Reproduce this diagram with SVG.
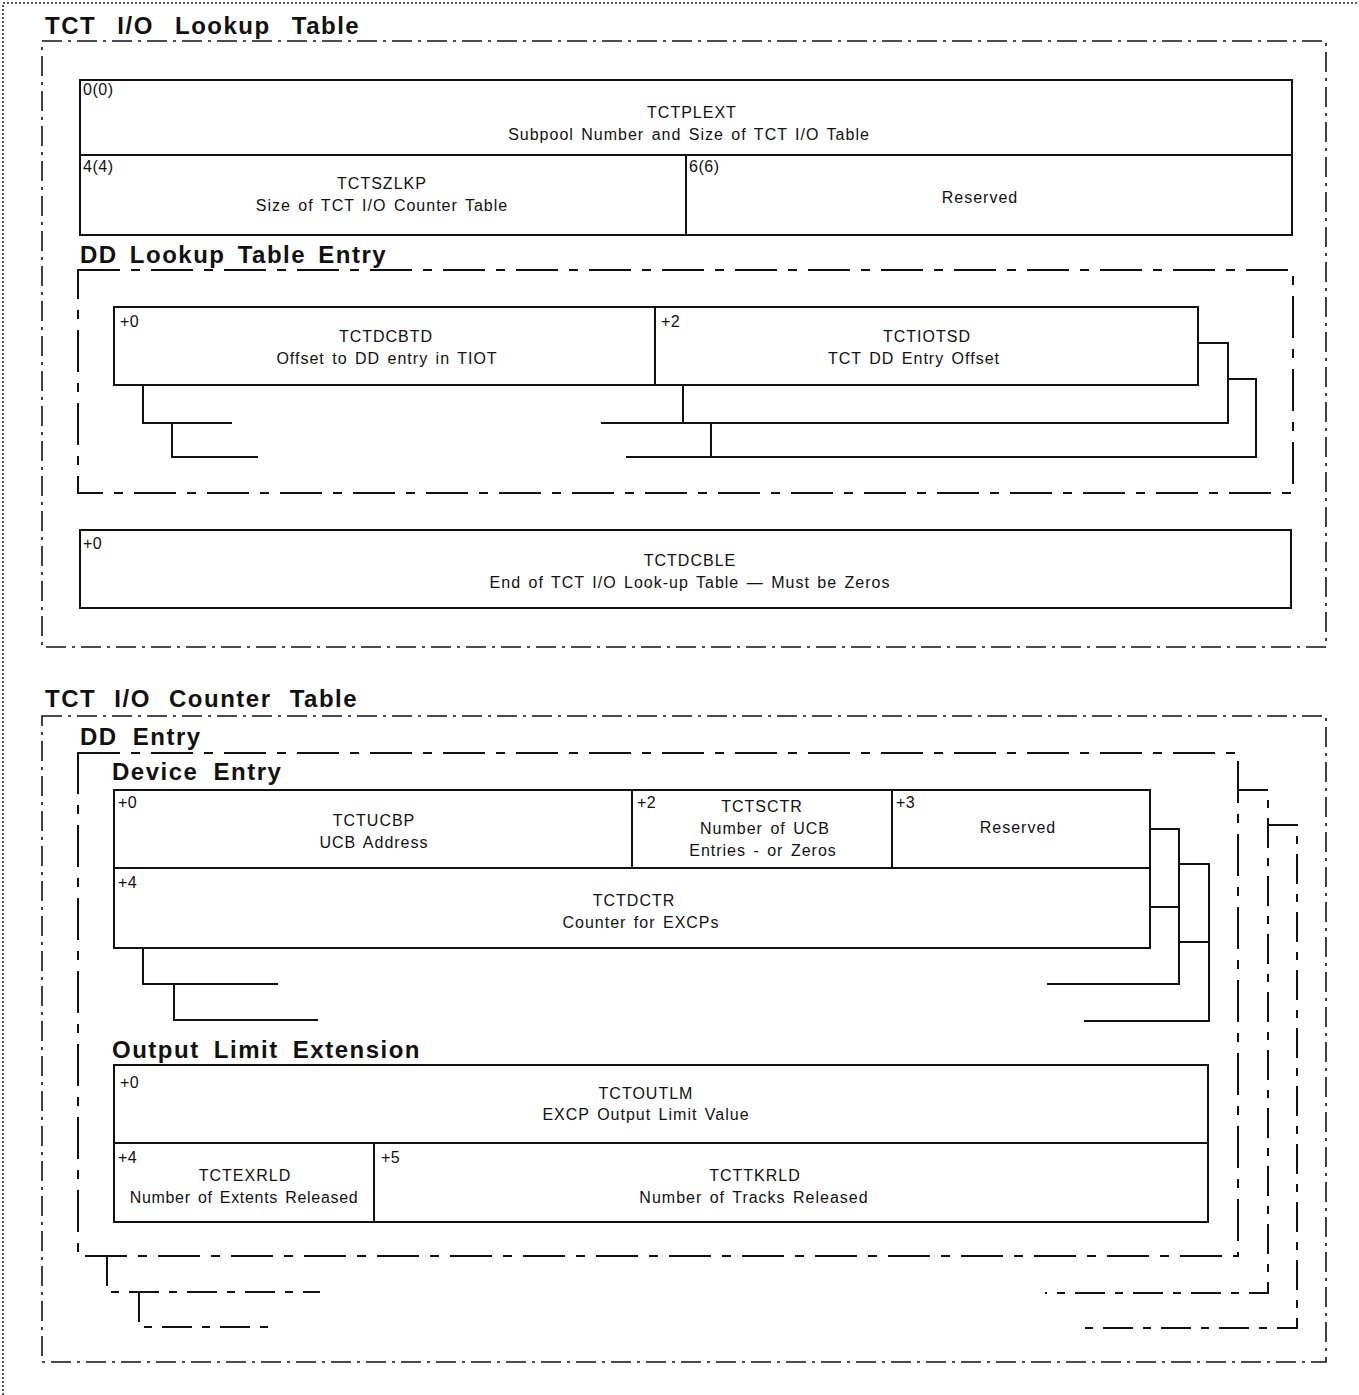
<svg xmlns="http://www.w3.org/2000/svg" width="1359" height="1395" viewBox="0 0 1359 1395">
  <style>
    .bg { fill: #ffffff; }
    .page { fill: none; stroke: #222; stroke-width: 1.5; stroke-dasharray: 2 2; }
    .outer { fill: none; stroke: #111; stroke-width: 1.6; stroke-dasharray: 20 6 3 6; }
    .dash { fill: none; stroke: #111; stroke-width: 2; stroke-dasharray: 42 11 9 11; }
    .dash2 { fill: none; stroke: #111; stroke-width: 2; stroke-dasharray: 30 10 8 10; }
    .cell { fill: #ffffff; stroke: #111; stroke-width: 2; }
    .stack { fill: none; stroke: #111; stroke-width: 2; }
    .title { font-family: "Liberation Sans", Arial, sans-serif; font-weight: bold; font-size: 24px; letter-spacing: 1.5px; word-spacing: 7px; fill: #111; }
    .name { font-family: "Liberation Sans", Arial, sans-serif; font-size: 16px; letter-spacing: 1px; word-spacing: 2px; fill: #111; text-anchor: middle; }
    .off { font-family: "Liberation Sans", Arial, sans-serif; font-size: 16px; letter-spacing: 0.5px; fill: #111; }
  </style>

  <rect class="bg" x="0" y="0" width="1359" height="1395"/>

  <!-- page edge -->
  <path class="page" d="M3 1395 V3 H1359"/>

  <!-- ===== TCT I/O Lookup Table ===== -->
  <g id="lookup-table">
    <path class="outer" d="M42 41 H1326 V647 H42 Z"/>
    <text class="title" x="45" y="34" style="word-spacing:13px">TCT I/O Lookup Table</text>
  </g>

  <g id="tctplext">
    <rect class="cell" x="80" y="80" width="1212" height="75"/>
    <text class="off" x="83" y="95">0(0)</text>
    <text class="name" x="692" y="118">TCTPLEXT</text>
    <text class="name" x="689" y="140">Subpool Number and Size of TCT I/O Table</text>
  </g>

  <g id="tctszlkp">
    <rect class="cell" x="80" y="155" width="606" height="80"/>
    <text class="off" x="83" y="172">4(4)</text>
    <text class="name" x="382" y="189">TCTSZLKP</text>
    <text class="name" x="382" y="211">Size of TCT I/O Counter Table</text>
  </g>

  <g id="lookup-reserved">
    <rect class="cell" x="686" y="155" width="606" height="80"/>
    <text class="off" x="689" y="172">6(6)</text>
    <text class="name" x="980" y="203">Reserved</text>
  </g>

  <!-- DD lookup table entry, repeated -->
  <g id="dd-lookup-entry">
    <path class="dash" d="M78 270 H1293 V493 H78 Z"/>
    <text class="title" x="80" y="263" style="word-spacing:4px">DD Lookup Table Entry</text>
  </g>

  <g id="tctdcbtd">
    <rect class="cell" x="114" y="307" width="541" height="78"/>
    <text class="off" x="120" y="327">+0</text>
    <text class="name" x="386" y="342">TCTDCBTD</text>
    <text class="name" x="387" y="364">Offset to DD entry in TIOT</text>
  </g>

  <g id="tctiotsd">
    <rect class="cell" x="655" y="307" width="543" height="78"/>
    <text class="off" x="661" y="327">+2</text>
    <text class="name" x="927" y="342">TCTIOTSD</text>
    <text class="name" x="914" y="364">TCT DD Entry Offset</text>
  </g>

  <g id="tctdcble">
    <rect class="cell" x="80" y="530" width="1211" height="78"/>
    <text class="off" x="83" y="549">+0</text>
    <text class="name" x="690" y="566">TCTDCBLE</text>
    <text class="name" x="690" y="588">End of TCT I/O Look-up Table — Must be Zeros</text>
  </g>

  <!-- ===== TCT I/O Counter Table ===== -->
  <g id="counter-table">
    <path class="outer" d="M42 716 H1326 V1362 H42 Z"/>
    <text class="title" x="45" y="707" style="word-spacing:10px">TCT I/O Counter Table</text>
  </g>

  <g id="dd-entry">
    <path class="dash" d="M78 753 H1238 V1256 H78 Z"/>
    <text class="title" x="80" y="745">DD Entry</text>
  </g>

  <g id="device-entry">
    <text class="title" x="112" y="780">Device Entry</text>
  </g>

  <g id="tctucbp">
    <rect class="cell" x="114" y="790" width="518" height="78"/>
    <text class="off" x="118" y="808">+0</text>
    <text class="name" x="374" y="826">TCTUCBP</text>
    <text class="name" x="374" y="848">UCB Address</text>
  </g>

  <g id="tctsctr">
    <rect class="cell" x="632" y="790" width="260" height="78"/>
    <text class="off" x="637" y="808">+2</text>
    <text class="name" x="762" y="812">TCTSCTR</text>
    <text class="name" x="765" y="834">Number of UCB</text>
    <text class="name" x="763" y="856">Entries - or Zeros</text>
  </g>

  <g id="device-reserved">
    <rect class="cell" x="892" y="790" width="258" height="78"/>
    <text class="off" x="896" y="808">+3</text>
    <text class="name" x="1018" y="833">Reserved</text>
  </g>

  <g id="tctdctr">
    <rect class="cell" x="114" y="868" width="1036" height="80"/>
    <text class="off" x="118" y="888">+4</text>
    <text class="name" x="634" y="906">TCTDCTR</text>
    <text class="name" x="641" y="928">Counter for EXCPs</text>
  </g>

  <g id="output-limit-extension">
    <text class="title" x="112" y="1058" style="word-spacing:6px">Output Limit Extension</text>
  </g>

  <g id="tctoutlm">
    <rect class="cell" x="114" y="1065" width="1094" height="78"/>
    <text class="off" x="120" y="1088">+0</text>
    <text class="name" x="646" y="1099">TCTOUTLM</text>
    <text class="name" x="646" y="1120">EXCP Output Limit Value</text>
  </g>

  <g id="tctexrld">
    <rect class="cell" x="114" y="1143" width="260" height="79"/>
    <text class="off" x="118" y="1163">+4</text>
    <text class="name" x="245" y="1181">TCTEXRLD</text>
    <text class="name" x="244" y="1203" style="letter-spacing:0.7px">Number of Extents Released</text>
  </g>

  <g id="tcttkrld">
    <rect class="cell" x="374" y="1143" width="834" height="79"/>
    <text class="off" x="381" y="1163">+5</text>
    <text class="name" x="755" y="1181">TCTTKRLD</text>
    <text class="name" x="754" y="1203">Number of Tracks Released</text>
  </g>

  <!-- outlines of the repeated copies drawn behind each entry -->
  <g id="connectors">
    <!-- DD lookup entries -->
    <path class="stack" d="M143 385 V423 H232"/>
    <path class="stack" d="M172 423 V457 H258"/>
    <path class="stack" d="M1198 343 H1228 V423 H601"/>
    <path class="stack" d="M683 385 V423"/>
    <path class="stack" d="M1228 379 H1256 V457 H626"/>
    <path class="stack" d="M711 423 V457"/>

    <!-- device entries -->
    <path class="stack" d="M143 948 V984 H278"/>
    <path class="stack" d="M174 984 V1020 H318"/>
    <path class="stack" d="M1150 829 H1179 V984 H1047"/>
    <path class="stack" d="M1150 907 H1179"/>
    <path class="stack" d="M1179 864 H1209 V1021 H1084"/>
    <path class="stack" d="M1179 942 H1209"/>

    <!-- DD entries -->
    <path class="dash2" d="M107 1256 V1292 H320"/>
    <path class="dash2" d="M139 1292 V1327 H277"/>
    <path class="dash2" d="M1238 790 H1268 V1293 H1045"/>
    <path class="dash2" d="M1268 825 H1297 V1328 H1083"/>
  </g>
</svg>
